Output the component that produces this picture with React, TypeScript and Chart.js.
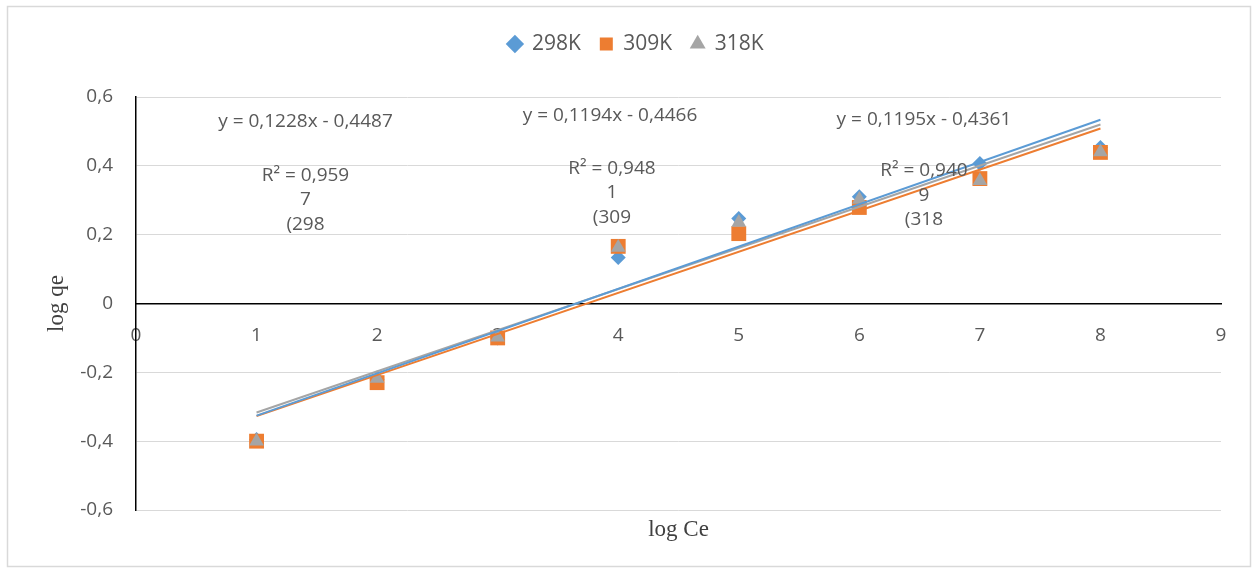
import React, { useEffect, useRef } from 'react';
import { Chart, registerables } from 'chart.js';

Chart.register(...registerables);

// ---- data ----
const logCe = [1, 2, 3, 4, 5, 6, 7, 8];
const q298 = [-0.395, -0.22, -0.1, 0.134, 0.247, 0.31, 0.407, 0.453];
const q309 = [-0.4, -0.23, -0.1, 0.166, 0.203, 0.279, 0.363, 0.439];
const q318 = [-0.4, -0.218, -0.098, 0.163, 0.235, 0.302, 0.357, 0.44];

const seriesNames = ['298K', '309K', '318K'];
const seriesValues = [q298, q309, q318];
const seriesColors = ['#5B9BD5', '#ED7D31', '#A5A5A5'];
const seriesPointStyles = ['rectRot', 'rect', 'triangle'];
const seriesPointRadii = [7.5, 10.5, 8.5];

// linear trendlines as printed on the chart
const trendSlopes = [0.1228, 0.1194, 0.1195];
const trendIntercepts = [-0.4487, -0.4466, -0.4361];
const trendRange = [1, 8];

const equationLabels = ['y = 0,1228x - 0,4487', 'y = 0,1194x - 0,4466', 'y = 0,1195x - 0,4361'];
const r2Labels = [
  ['R² = 0,959', '7', '(298'],
  ['R² = 0,948', '1', '(309'],
  ['R² = 0,940', '9', '(318'],
];
// label anchors in data coordinates (x = log Ce, y = log qe)
const equationAnchors = [[1.406, 0.529], [3.932, 0.546], [6.536, 0.535]];
const r2Anchors = [[1.406, 0.372], [3.948, 0.392], [6.536, 0.386]];

const xAxisTitle = 'log Ce';
const yAxisTitle = 'log qe';

const fmt = (v: number) => {
  if (Math.abs(v) < 1e-9) return '0';
  return v.toFixed(1).replace('.', ',');
};

const SANS = '"Open Sans", "Noto Sans", sans-serif';
const SERIF = '"Liberation Serif", "DejaVu Serif", serif';
const TEXT = '#595959';

const frameAndLabels = {
  id: 'frameAndLabels',
  beforeDraw(chart: any) {
    const { ctx } = chart;
    ctx.save();
    ctx.fillStyle = '#ffffff';
    ctx.fillRect(0, 0, chart.width, chart.height);
    ctx.strokeStyle = '#d9d9d9';
    ctx.lineWidth = 1.5;
    ctx.strokeRect(7.5, 6.5, 1243, 560);
    ctx.restore();
  },
  afterDatasetsDraw(chart: any) {
    const { ctx } = chart;
    const x = chart.scales.x;
    const y = chart.scales.y;
    ctx.save();
    ctx.font = `19px ${SANS}`;
    ctx.fillStyle = TEXT;
    ctx.textAlign = 'center';
    ctx.textBaseline = 'middle';
    equationLabels.forEach((t, i) => {
      ctx.fillText(t, x.getPixelForValue(equationAnchors[i][0]), y.getPixelForValue(equationAnchors[i][1]));
      r2Labels[i].forEach((line, j) => {
        ctx.fillText(
          line,
          x.getPixelForValue(r2Anchors[i][0]),
          y.getPixelForValue(r2Anchors[i][1]) + j * 24.5
        );
      });
    });
    ctx.restore();
  },
};

export default function App() {
  const canvasRef = useRef<HTMLCanvasElement | null>(null);

  useEffect(() => {
    document.body.style.margin = '0';
    const canvas = canvasRef.current;
    if (!canvas) return;

    const pointSets = seriesNames.map((name, i) => ({
      type: 'scatter' as const,
      label: name,
      data: logCe.map((xv, k) => ({ x: xv, y: seriesValues[i][k] })),
      backgroundColor: seriesColors[i],
      borderColor: seriesColors[i],
      pointStyle: seriesPointStyles[i],
      pointRadius: seriesPointRadii[i],
      pointHoverRadius: seriesPointRadii[i],
      pointBorderWidth: 0,
      showLine: false,
      order: 3 - i,
    }));

    const trendSets = seriesNames.map((name, i) => ({
      type: 'scatter' as const,
      label: `Linear (${name})`,
      data: trendRange.map((xv) => ({ x: xv, y: trendSlopes[i] * xv + trendIntercepts[i] })),
      borderColor: seriesColors[i],
      backgroundColor: seriesColors[i],
      borderWidth: 2,
      showLine: true,
      pointRadius: 0,
      pointHoverRadius: 0,
      order: 0,
    }));

    const chart = new Chart(canvas, {
      type: 'scatter',
      data: { datasets: [...pointSets, ...trendSets] as any },
      options: {
        responsive: false,
        animation: false,
        devicePixelRatio: 1,
        layout: { padding: { top: 14.5, left: 15, right: 0, bottom: 0 } },
        plugins: {
          tooltip: { enabled: false },
          legend: {
            position: 'top',
            weight: 2000,
            labels: {
              usePointStyle: true,
              boxWidth: 13,
              boxHeight: 13,
              padding: 19,
              color: TEXT,
              font: { family: SANS, size: 21 },
              filter: (item: any) => item.datasetIndex < 3,
              sort: (a: any, b: any) => a.datasetIndex - b.datasetIndex,
            },
          } as any,
          title: {
            display: true,
            position: 'bottom',
            fullSize: false,
            text: xAxisTitle,
            color: '#404040',
            font: { family: SERIF, size: 23, weight: 'normal' },
            padding: { top: 6.2, bottom: 26.2 },
          },
        },
        scales: {
          x: {
            type: 'linear',
            position: { y: 0 } as any,
            min: 0,
            max: 9,
            ticks: {
              stepSize: 1,
              padding: 21,
              color: TEXT,
              font: { family: SANS, size: 19 },
              maxRotation: 0,
              autoSkip: false,
            },
            grid: { display: true, color: 'rgba(0,0,0,0)', drawTicks: false },
            border: { display: true, color: '#000000', width: 1.5 },
          },
          x2: {
            type: 'linear',
            position: 'top',
            display: true,
            min: 0,
            max: 9,
            ticks: { display: false },
            grid: { display: false, drawTicks: false },
            border: { display: false },
            afterFit: (s: any) => { s.height = 32.5; },
          },
          y: {
            type: 'linear',
            position: 'left',
            min: -0.6,
            max: 0.6,
            ticks: {
              stepSize: 0.2,
              padding: 23,
              color: TEXT,
              font: { family: SANS, size: 19 },
              callback: (v: any) => fmt(Number(v)),
            },
            grid: { color: '#d9d9d9', lineWidth: 1, drawTicks: false },
            border: { display: true, color: '#000000', width: 1.5 },
            title: {
              display: true,
              text: yAxisTitle,
              color: '#404040',
              font: { family: SERIF, size: 23, weight: 'normal' },
              padding: { top: 28, bottom: 0 },
            },
            afterFit: (s: any) => { s.width = 121; },
          },
          y2: {
            type: 'linear',
            position: 'right',
            display: true,
            min: -0.6,
            max: 0.6,
            ticks: { display: false },
            grid: { display: false, drawTicks: false },
            border: { display: false },
            afterFit: (s: any) => { s.width = 36; },
          },
        },
      } as any,
      plugins: [frameAndLabels],
    });

    return () => chart.destroy();
  }, []);

  return (
    <div style={{ width: 1257, height: 570, position: 'relative' }}>
      <canvas ref={canvasRef} width={1257} height={570} style={{ display: 'block' }} />
    </div>
  );
}
